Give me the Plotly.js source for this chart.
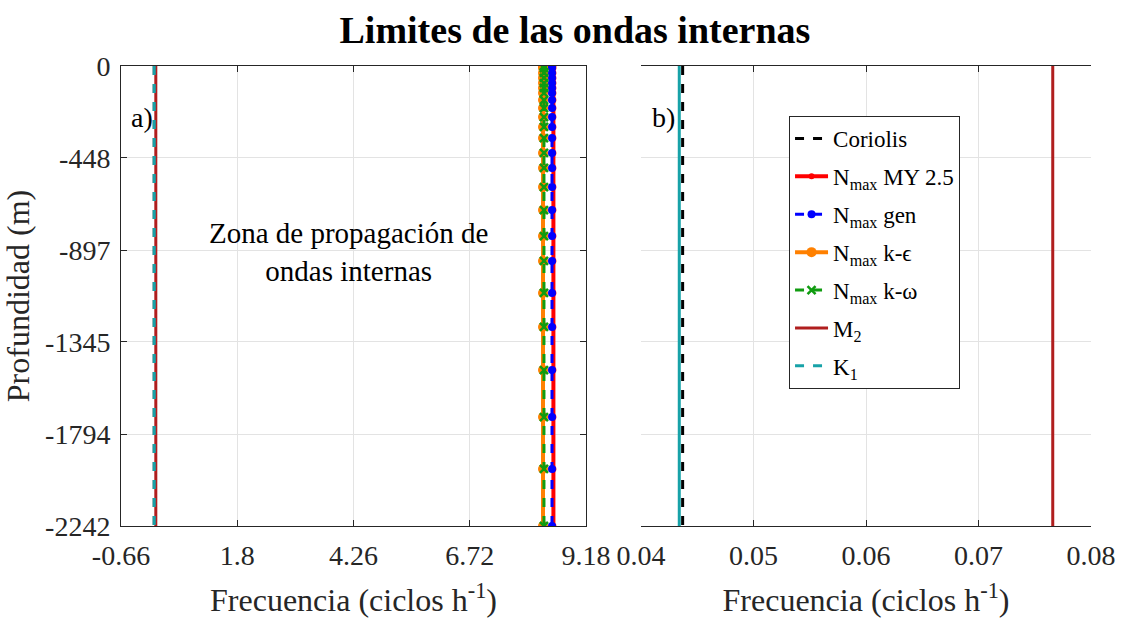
<!DOCTYPE html>
<html>
<head>
<meta charset="utf-8">
<script src="https://cdn.plot.ly/plotly-3.0.1.min.js"></script>
<style>html,body{margin:0;padding:0;background:#fff}#chart{width:1143px;height:618px}</style>
</head>
<body>
<div id="chart"></div>
<script>
// ---- data ----
const depth      = [0,-10,-34,-58,-83,-107,-132,-166,-205,-249,-297,-351,-424,-497,-590,-702,-829,-950,-1106,-1272,-1482,-1711,-1964,-2242];
const nmaxMY25   = [8.49,8.49,8.49,8.49,8.49,8.49,8.49,8.49,8.49,8.49,8.49,8.49,8.49,8.49,8.49,8.49,8.49,8.49,8.49,8.49,8.49,8.49,8.49,8.49];
const nmaxGen    = [8.46,8.46,8.46,8.46,8.46,8.46,8.46,8.46,8.46,8.46,8.46,8.46,8.46,8.46,8.46,8.46,8.46,8.46,8.46,8.46,8.46,8.46,8.46,8.46];
const nmaxKeps   = [8.27,8.27,8.27,8.27,8.27,8.27,8.27,8.27,8.27,8.27,8.27,8.27,8.27,8.27,8.27,8.27,8.27,8.27,8.27,8.27,8.27,8.27,8.27,8.27];
const nmaxKomega = [8.29,8.29,8.29,8.29,8.29,8.29,8.29,8.29,8.29,8.29,8.29,8.29,8.29,8.29,8.29,8.29,8.29,8.29,8.29,8.29,8.29,8.29,8.29,8.29];
const lineDepth  = [0, -2242];
const coriolis   = [0.0437, 0.0437];
const m2         = [0.0766, 0.0766];
const k1         = [0.0434, 0.0434];
const yTickVals  = [0, -448, -897, -1345, -1794, -2242];
const yTickText  = ['0', '-448', '-897', '-1345', '-1794', '-2242'];
const xaTickVals = [-0.66, 1.8, 4.26, 6.72, 9.18];
const xaTickText = ['-0.66', '1.8', '4.26', '6.72', '9.18'];
const xbTickVals = [0.04, 0.05, 0.06, 0.07, 0.08];
const xbTickText = ['0.04', '0.05', '0.06', '0.07', '0.08'];
const names = ['Coriolis', 'N<sub>max</sub> MY 2.5', 'N<sub>max</sub> gen', 'N<sub>max</sub> k-\u03f5', 'N<sub>max</sub> k-\u03c9', 'M<sub>2</sub>', 'K<sub>1</sub>'];

const FONT = 'Liberation Serif, Times New Roman, serif';
const C = {cor:'#000000', my:'#ff0000', gen:'#0000ff', keps:'#ff8000', kom:'#109c10', m2:'#b01e1e', k1:'#17a2a8'};

function tr(ax, show) {
  const xa = ax === 'a' ? 'x' : 'x2';
  return [
    {x: coriolis, y: lineDepth, name: names[0], legendgroup: 'g0', xaxis: xa, yaxis: 'y', mode: 'lines', showlegend: show,
     line: {color: C.cor, width: 3, dash: 'dash'}},
    {x: nmaxMY25, y: depth, name: names[1], legendgroup: 'g1', xaxis: xa, yaxis: 'y', mode: 'lines+markers', showlegend: show,
     line: {color: C.my, width: 4}, marker: {color: C.my, size: 6, symbol: 'circle'}},
    {x: nmaxGen, y: depth, name: names[2], legendgroup: 'g2', xaxis: xa, yaxis: 'y', mode: 'lines+markers', showlegend: show,
     line: {color: C.gen, width: 3, dash: 'dash'}, marker: {color: C.gen, size: 8, symbol: 'circle'}},
    {x: nmaxKeps, y: depth, name: names[3], legendgroup: 'g3', xaxis: xa, yaxis: 'y', mode: 'lines+markers', showlegend: show,
     line: {color: C.keps, width: 4}, marker: {color: C.keps, size: 10, symbol: 'circle'}},
    {x: nmaxKomega, y: depth, name: names[4], legendgroup: 'g4', xaxis: xa, yaxis: 'y', mode: 'lines+markers', showlegend: show,
     line: {color: C.kom, width: 3, dash: 'dash'}, marker: {color: C.kom, size: 8, symbol: 'x-thin-open', line: {color: C.kom, width: 2.5}}},
    {x: m2, y: lineDepth, name: names[5], legendgroup: 'g5', xaxis: xa, yaxis: 'y', mode: 'lines', showlegend: show,
     line: {color: C.m2, width: 3}},
    {x: k1, y: lineDepth, name: names[6], legendgroup: 'g6', xaxis: xa, yaxis: 'y', mode: 'lines', showlegend: show,
     line: {color: C.k1, width: 3, dash: ax === 'a' ? 'dash' : 'solid'}}
  ];
}
const bTraces = tr('b', false);
// in panel b the teal K1 line sits beneath the dashed Coriolis line
const data = tr('a', true).concat([bTraces[6], bTraces[1], bTraces[2], bTraces[3], bTraces[4], bTraces[5], bTraces[0]]);

const axBase = {
  showline: true, linecolor: '#262626', linewidth: 1, mirror: 'ticks',
  ticks: 'inside', ticklen: 6, tickcolor: '#262626', tickwidth: 1,
  showgrid: true, gridcolor: '#e3e3e3', gridwidth: 1, zeroline: false,
  tickfont: {family: FONT, size: 28, color: '#262626'}, tickmode: 'array'
};
const xTitle = {text: 'Frecuencia (ciclos h<sup>-1</sup>)', font: {family: FONT, size: 32, color: '#262626'}, standoff: 20};

const layout = {
  width: 1143, height: 618,
  margin: {l: 121, r: 52, t: 66, b: 92},
  paper_bgcolor: '#ffffff', plot_bgcolor: '#ffffff',
  font: {family: FONT, color: '#262626'},
  title: {text: '<b>Limites de las ondas internas</b>', font: {family: FONT, size: 38, color: '#000000'},
          x: 0.503, xanchor: 'center', y: 0.952, yanchor: 'middle'},
  xaxis: Object.assign({}, axBase, {domain: [0, 0.4794], range: [-0.66, 9.18], tickvals: xaTickVals, ticktext: xaTickText,
          ticklabelstandoff: 4, title: xTitle}),
  xaxis2: Object.assign({}, axBase, {domain: [0.5361, 1], range: [0.04, 0.08], tickvals: xbTickVals, ticktext: xbTickText,
          anchor: 'y', ticklabelstandoff: 4, title: xTitle}),
  yaxis: Object.assign({}, axBase, {range: [-2242, 0], tickvals: yTickVals, ticktext: yTickText, ticklabelstandoff: 4,
          title: {text: 'Profundidad (m)', font: {family: FONT, size: 32, color: '#262626'}, standoff: 6}}),
  legend: {x: 0.6887, y: 0.8913, xanchor: 'left', yanchor: 'top', bgcolor: '#ffffff',
           bordercolor: '#262626', borderwidth: 1, font: {family: FONT, size: 23, color: '#000000'},
           itemwidth: 33, tracegroupgap: 5, traceorder: 'grouped'},
  showlegend: true,
  annotations: [
    {xref: 'x domain', yref: 'y domain', x: 0.018, y: 0.887, text: 'a)', showarrow: false, xanchor: 'left', yanchor: 'middle',
     font: {family: FONT, size: 28, color: '#000000'}},
    {xref: 'x2 domain', yref: 'y domain', x: 0.02, y: 0.887, text: 'b)', showarrow: false, xanchor: 'left', yanchor: 'middle',
     font: {family: FONT, size: 28, color: '#000000'}},
    {xref: 'x domain', yref: 'y domain', x: 0.489, y: 0.596, text: 'Zona de propagación de<br>ondas internas', showarrow: false,
     xanchor: 'center', yanchor: 'middle', align: 'center', font: {family: FONT, size: 29, color: '#000000'}}
  ]
};

// panel b: y ticks on both sides without labels
layout.yaxis2 = Object.assign({}, axBase, {range: [-2242, 0], tickvals: yTickVals, showticklabels: false,
  anchor: 'x2', overlaying: 'y'});

Plotly.newPlot('chart', data, layout, {displayModeBar: false, staticPlot: true});
</script>
</body>
</html>
